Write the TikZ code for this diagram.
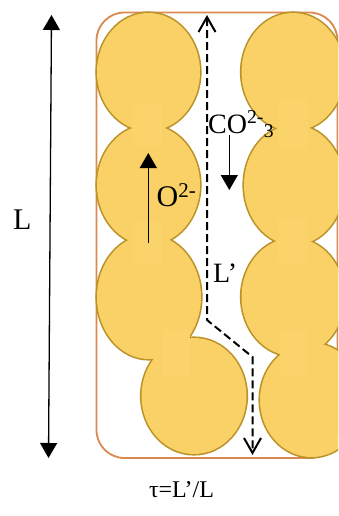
\documentclass[tikz,border=0pt]{standalone}
\usepackage{fontspec}
\setmainfont{Liberation Serif}
\usetikzlibrary{arrows.meta}
\definecolor{grainfill}{RGB}{249,209,102}
\definecolor{grainedge}{RGB}{186,146,38}
\definecolor{neckfill}{RGB}{250,212,106}
\definecolor{framecol}{RGB}{218,138,80}
\tikzset{
    grainrim/.style={draw=grainedge, line width=3.2pt},
    grain/.style={fill=grainfill},
    neck/.style={fill=neckfill},
    cell/.style={draw=framecol, line width=1.8pt, rounded corners=28pt},
    flux/.style={line width=1.3pt, -{Triangle[length=15pt,width=17pt]}},
    tortuous/.style={line width=2pt, dash pattern=on 8pt off 4pt,
        {Straight Barb[length=15pt,width=17pt,line width=2pt]}-{Straight Barb[length=15pt,width=17pt,line width=2pt]}},
    big/.style={font=\fontsize{30}{30}\selectfont, inner sep=0},
    mid/.style={font=\fontsize{28}{28}\selectfont, inner sep=0}
}

\begin{document}
\begin{tikzpicture}[x=1pt, y=-1pt]
    \useasboundingbox (0,0) rectangle (338,516);
    \clip (0,0) rectangle (338,516);
    \draw[cell] (96.5,12.5) rectangle (337.5,458);
    % grains: outline first, then the fill hides the overlaps
    \foreach \x/\y/\a/\b in {148.5/72/51.5/59, 148.5/185/51.5/60, 149/297/52/62, 194/396/52.5/58,
        293/72/51.5/59, 294/185/50/60, 293/297/51.5/59, 311.5/400/51.5/57}
        \path[grainrim] (\x,\y) ellipse [x radius=\a, y radius=\b];
    \foreach \x/\y/\a/\b in {148.5/72/51.5/59, 148.5/185/51.5/60, 149/297/52/62, 194/396/52.5/58,
        293/72/51.5/59, 294/185/50/60, 293/297/51.5/59, 311.5/400/51.5/57}
        \path[grain] (\x,\y) ellipse [x radius=\a, y radius=\b];
    % necks between grains
    \foreach \x/\y/\w/\h in {133/103/29/44, 133/222/29/43, 162/330/28/47,
        278/100/30/48, 278/218/29/45, 280/330/27/47}
        \path[neck] (\x,\y) rectangle ++(\w,\h);

    \coordinate (Ltop) at (51.5,15);
    \coordinate (Lbot) at (48.5,458);
    \draw[flux, {Triangle[length=15pt,width=17pt]}-{Triangle[length=15pt,width=17pt]}] (Ltop) -- (Lbot);
    \node[big, anchor=base west] (Llab) at (13,229) {L};

    \coordinate (otail) at (148.3,243);
    \coordinate (ohead) at (148.3,153);
    \draw[flux] (otail) -- (ohead);
    \node[big, anchor=base west] (oion) at (156.5,206.5) {O\textsuperscript{2-}};

    \coordinate (ctail) at (229.3,135);
    \coordinate (chead) at (229.3,190);
    \draw[flux] (ctail) -- (chead);
    \node[mid, anchor=base west] (cion) at (208,133) {CO\textsuperscript{2-}\textsubscript{3}};

    \coordinate (ptop) at (207,15);
    \coordinate (pbend) at (207,320);
    \coordinate (pkink) at (252.5,357);
    \coordinate (pbot) at (252.5,455);
    \draw[tortuous] (ptop) -- (pbend) -- (pkink) -- (pbot);
    \node[mid, anchor=base west] (Lpath) at (213,282) {L’};

    \node[font=\fontsize{24}{24}\selectfont, inner sep=0, anchor=base] (tort) at (181.5,497) {τ=L’/L};
\end{tikzpicture}
\end{document}
